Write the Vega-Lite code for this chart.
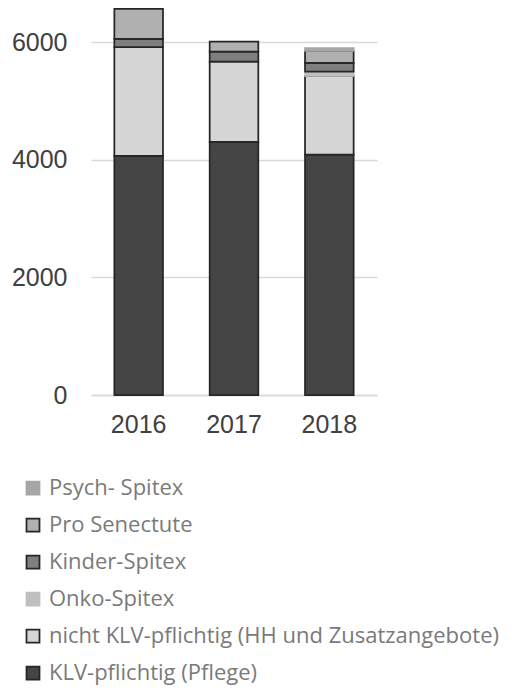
{
  "$schema": "https://vega.github.io/schema/vega-lite/v6.json",
  "width": 286,
  "height": 395,
  "autosize": "none",
  "padding": {"left": 91, "top": 0, "right": 147, "bottom": 296},
  "background": "white",
  "data": {"values": [
    {"year": "2016", "series": "KLV-pflichtig (Pflege)", "value": 4070},
    {"year": "2016", "series": "nicht KLV-pflichtig (HH und Zusatzangebote)", "value": 1850},
    {"year": "2016", "series": "Kinder-Spitex", "value": 140},
    {"year": "2016", "series": "Pro Senectute", "value": 510},
    {"year": "2017", "series": "KLV-pflichtig (Pflege)", "value": 4305},
    {"year": "2017", "series": "nicht KLV-pflichtig (HH und Zusatzangebote)", "value": 1365},
    {"year": "2017", "series": "Kinder-Spitex", "value": 170},
    {"year": "2017", "series": "Pro Senectute", "value": 170},
    {"year": "2018", "series": "KLV-pflichtig (Pflege)", "value": 4090},
    {"year": "2018", "series": "nicht KLV-pflichtig (HH und Zusatzangebote)", "value": 1340},
    {"year": "2018", "series": "Onko-Spitex", "value": 70},
    {"year": "2018", "series": "Kinder-Spitex", "value": 150},
    {"year": "2018", "series": "Pro Senectute", "value": 205},
    {"year": "2018", "series": "Psych- Spitex", "value": 45}
  ]},
  "transform": [
    {"calculate": "indexof(['KLV-pflichtig (Pflege)', 'nicht KLV-pflichtig (HH und Zusatzangebote)', 'Onko-Spitex', 'Kinder-Spitex', 'Pro Senectute', 'Psych- Spitex'], datum.series)", "as": "stackOrder"}
  ],
  "mark": {"type": "bar", "strokeWidth": 1.75},
  "encoding": {
    "x": {
      "field": "year", "type": "nominal",
      "scale": {"paddingInner": 0.49, "paddingOuter": 0.245},
      "axis": {"title": null, "labelAngle": 0, "ticks": false, "domain": true, "domainColor": "#d9d9d9", "domainWidth": 1.5,
               "labelFont": "Liberation Sans", "labelFontSize": 25, "labelColor": "#404040", "labelPadding": 17}
    },
    "y": {
      "field": "value", "type": "quantitative", "stack": "zero",
      "scale": {"domain": [0, 6720], "nice": false},
      "axis": {"title": null, "values": [0, 2000, 4000, 6000], "format": "d", "ticks": false, "domain": false,
               "gridColor": "#d9d9d9", "gridWidth": 1.5,
               "labelFont": "Liberation Sans", "labelFontSize": 25, "labelColor": "#404040", "labelPadding": 24}
    },
    "order": {"field": "stackOrder", "type": "quantitative", "sort": "ascending"},
    "fill": {
      "field": "series", "type": "nominal",
      "sort": ["Psych- Spitex", "Pro Senectute", "Kinder-Spitex", "Onko-Spitex", "nicht KLV-pflichtig (HH und Zusatzangebote)", "KLV-pflichtig (Pflege)"],
      "scale": {"range": ["#a6a6a6", "#b0b0b0", "#7f7f7f", "#bfbfbf", "#d6d6d6", "#454545"]},
      "legend": {"title": null, "orient": "none", "legendX": -69, "legendY": 477,
                 "values": ["Psych- Spitex", "Pro Senectute", "Kinder-Spitex", "Onko-Spitex", "nicht KLV-pflichtig (HH und Zusatzangebote)", "KLV-pflichtig (Pflege)"],
                 "symbolType": "square", "symbolSize": 169, "symbolStrokeWidth": 1.75,
                 "labelFont": "Open Sans", "labelFontSize": 22, "labelColor": "#7a7a7a", "labelLimit": 600,
                 "rowPadding": 15, "labelOffset": 5,
                 "encode": {"symbols": {"update": {"stroke": {"scale": "stroke", "field": "value"}}}}}
    },
    "stroke": {
      "field": "series", "type": "nominal",
      "sort": ["Psych- Spitex", "Pro Senectute", "Kinder-Spitex", "Onko-Spitex", "nicht KLV-pflichtig (HH und Zusatzangebote)", "KLV-pflichtig (Pflege)"],
      "scale": {"range": ["#a6a6a6", "#262626", "#262626", "#bfbfbf", "#262626", "#262626"]},
      "legend": null
    }
  },
  "config": {"view": {"stroke": null}}
}
